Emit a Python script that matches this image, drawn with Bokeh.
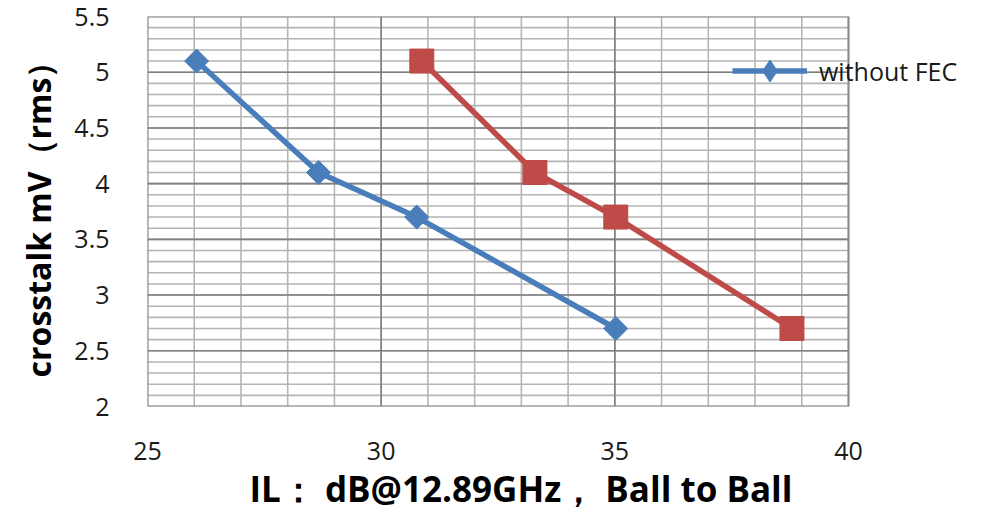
from bokeh.plotting import figure
from bokeh.models import Range1d, FixedTicker, Legend, LegendItem, Title
from bokeh.embed import file_html
from bokeh.resources import INLINE
import numpy as np

# insertion loss (dB) vs. crosstalk (mV rms)
il_without_fec = [26.05, 28.66, 30.76, 35.02]
xt_without_fec = [5.1, 4.1, 3.7, 2.7]
il_with_fec = [30.87, 33.29, 35.02, 38.79]
xt_with_fec = [5.1, 4.1, 3.7, 2.7]

x_ticks = [25, 30, 35, 40]
y_ticks = [2, 2.5, 3, 3.5, 4, 4.5, 5, 5.5]
x_lo, x_hi = 25, 40
y_lo, y_hi = 2, 5.5

BLUE = "#4a7ebb"
RED = "#be4b48"
FONT = "Open Sans"

# plotting area is 701 px wide for 25..40; the frame runs on to the right so
# that the legend beside the plotting area is not cut off
FRAME_L, FRAME_R = 147, 1000
x_end = x_lo + (FRAME_R - FRAME_L) * (x_hi - x_lo) / 701

p = figure(width=1006, height=511, output_backend="svg", toolbar_location=None,
           x_range=Range1d(x_lo, x_end), y_range=Range1d(y_lo, y_hi),
           min_border_left=FRAME_L, min_border_right=1006 - FRAME_R,
           min_border_top=16, min_border_bottom=99)
p.background_fill_color = "white"
p.border_fill_color = "white"
p.outline_line_color = None
p.xgrid.visible = False
p.ygrid.visible = False

p.xaxis.ticker = FixedTicker(ticks=x_ticks)
p.yaxis.ticker = FixedTicker(ticks=y_ticks)

for ax in (p.xaxis, p.yaxis):
    ax.axis_line_color = None
    ax.major_tick_line_color = None
    ax.minor_tick_line_color = None
    ax.major_label_text_font = FONT
    ax.major_label_text_font_size = "25px"
    ax.major_label_text_color = "#1a1a1a"
    ax.axis_label_text_font = FONT
    ax.axis_label_text_font_style = "bold"
    ax.axis_label_text_color = "black"

p.xaxis.major_label_standoff = 29
p.yaxis.major_label_standoff = 32
p.yaxis.axis_label = "crosstalk mV（rms）"
p.yaxis.axis_label_text_font_size = "32px"
p.yaxis.axis_label_standoff = 11

p.add_layout(Title(text="IL：  dB@12.89GHz，  Ball to Ball", align="left",
                   offset=102, standoff=0, text_font=FONT,
                   text_font_style="bold", text_font_size="35px",
                   text_color="black"), "below")

# grid of the plotting area: light lines every 1 dB / 0.1 mV,
# darker lines at the labelled ticks
minor_x = np.arange(x_lo, x_hi + 0.5, 1.0)
minor_y = np.round(np.arange(y_lo, y_hi + 0.05, 0.1), 1)
major_x = np.array(x_ticks[1:-1], dtype=float)
major_y = np.array(y_ticks[1:-1], dtype=float)

GRID_MINOR = "#b5b5b5"
GRID_MAJOR = "#7f7f7f"
p.segment(x0=minor_x, y0=y_lo, x1=minor_x, y1=y_hi,
          line_color=GRID_MINOR, line_width=1.6)
p.segment(x0=x_lo, y0=minor_y, x1=x_hi, y1=minor_y,
          line_color=GRID_MINOR, line_width=1.6)
p.segment(x0=major_x, y0=y_lo, x1=major_x, y1=y_hi,
          line_color=GRID_MAJOR, line_width=1.6)
p.segment(x0=x_lo, y0=major_y, x1=x_hi, y1=major_y,
          line_color=GRID_MAJOR, line_width=1.6)
p.quad(left=x_lo, right=x_hi, bottom=y_lo, top=y_hi,
       fill_color=None, line_color="#8c8c8c", line_width=2)

l1 = p.line(il_without_fec, xt_without_fec, line_color=BLUE, line_width=5.5,
            line_join="round")
# upright diamond used as the legend key (the legend does not rotate
# markers); in the plot it sits hidden under the larger diamonds below
key = p.scatter(il_without_fec, xt_without_fec, marker="diamond", size=10,
                fill_color=BLUE, line_color=BLUE)
p.scatter(il_without_fec, xt_without_fec, marker="square", angle=np.pi / 4,
          size=17, fill_color=BLUE, line_color=BLUE)
p.line(il_with_fec, xt_with_fec, line_color=RED, line_width=5.5,
       line_join="round")
p.scatter(il_with_fec, xt_with_fec, marker="square", size=24,
          fill_color=RED, line_color=RED)

legend = Legend(items=[LegendItem(label="without FEC", renderers=[l1, key])],
                location=(585, 308), orientation="vertical",
                glyph_width=75, glyph_height=55, label_standoff=12,
                padding=0, margin=0, spacing=0,
                border_line_color=None, background_fill_alpha=0,
                label_text_font=FONT, label_text_font_size="25px",
                label_text_color="#1a1a1a")
p.add_layout(legend, "center")

open("out.html", "w").write(file_html(p, INLINE))
